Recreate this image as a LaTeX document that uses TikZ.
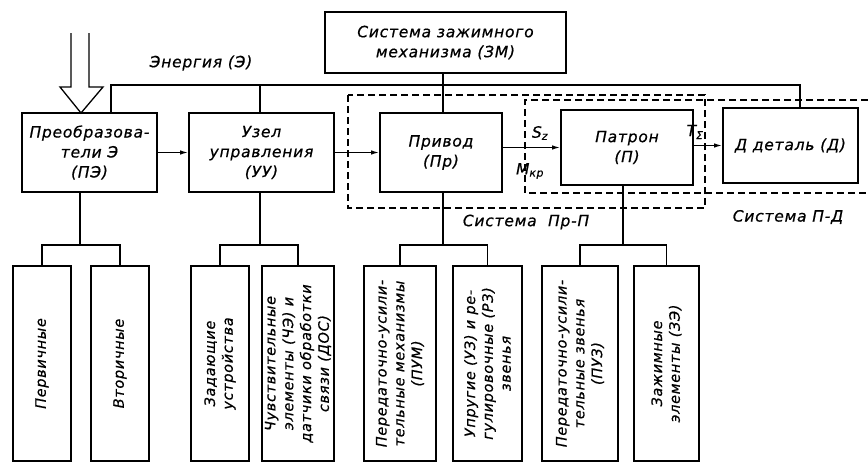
\documentclass[tikz,border=0pt]{standalone}
\usepackage{fontspec}
\setmainfont{DejaVu Sans}[LetterSpace=5,FakeBold=0.6]
\usetikzlibrary{arrows.meta}
\begin{document}
\begin{tikzpicture}[x=1pt,y=-1pt,
  box/.style={draw,line width=1.8pt,inner sep=0pt},
  vbox/.style={draw,line width=1.8pt,inner sep=0pt,minimum height=195pt},
  txt/.style={font=\itshape\fontsize{15.5}{20}\selectfont,align=center,inner sep=0pt},
  vtxt/.style={font=\itshape\fontsize{14.4}{17.8}\selectfont,align=center,inner sep=0pt,rotate=90},
  ln/.style={line width=1.3pt},
  dsh/.style={line width=1.2pt,dash pattern=on 7pt off 4pt},
  arr/.style={line width=1.3pt,-{Latex[length=8pt,width=4.5pt]}}]
\useasboundingbox (0,0) rectangle (868,463);

% main boxes
\node[box,minimum width=241pt,minimum height=61pt] (zm) at (445.5,42.5) {};
\node[txt] (tzm) at (zm.center) {Система зажимного\\механизма (ЗМ)};
\node[box,minimum width=135pt,minimum height=79pt] (pe) at (89.5,152.5) {};
\node[txt] (tpe) at (pe.center) {Преобразова-\\тели Э\\(ПЭ)};
\node[box,minimum width=145pt,minimum height=79pt] (uu) at (261.5,152.5) {};
\node[txt] (tuu) at (uu.center) {Узел\\управления\\(УУ)};
\node[box,minimum width=122pt,minimum height=79pt] (pr) at (441,152.5) {};
\node[txt] (tpr) at (pr.center) {Привод\\(Пр)};
\node[box,minimum width=132pt,minimum height=75pt] (pat) at (627,147.5) {};
\node[txt] (tpat) at (pat.center) {Патрон\\(П)};
\node[box,minimum width=135pt,minimum height=75pt] (det) at (790.5,145.5) {};
\node[txt] (tdet) at (det.center) {Д деталь (Д)};

% bottom boxes
\node[vbox,minimum width=58pt] (b1) at (42,363.5) {};
\node[vtxt] (t1) at (b1.center) {Первичные};
\node[vbox,minimum width=58pt] (b2) at (120,363.5) {};
\node[vtxt] (t2) at (b2.center) {Вторичные};
\node[vbox,minimum width=58pt] (b3) at (220,363.5) {};
\node[vtxt] (t3) at (b3.center) {Задающие\\устройства};
\node[vbox,minimum width=72pt] (b4) at (298,363.5) {};
\node[vtxt] (t4) at (b4.center) {Чувствительные\\элементы (ЧЭ) и\\датчики обработки\\связи (ДОС)};
\node[vbox,minimum width=72pt] (b5) at (400,363.5) {};
\node[vtxt] (t5) at (b5.center) {Передаточно-усили-\\тельные механизмы\\(ПУМ)};
\node[vbox,minimum width=69pt] (b6) at (487.5,363.5) {};
\node[vtxt] (t6) at (b6.center) {Упругие (УЗ) и ре-\\гулировочные (РЗ)\\звенья};
\node[vbox,minimum width=76pt] (b7) at (580,363.5) {};
\node[vtxt] (t7) at (b7.center) {Передаточно-усили-\\тельные звенья\\(ПУЗ)};
\node[vbox,minimum width=65pt] (b8) at (666.5,363.5) {};
\node[vtxt] (t8) at (b8.center) {Зажимные\\элементы (ЗЭ)};

% energy input arrow
\draw[ln] (71,33) -- (71,87) -- (60,87) -- (81,113) -- (103,87) -- (89,87) -- (89,33);
\node[txt] (en) at (201,63) {Энергия (Э)};

% energy distribution line
\coordinate (e1) at (111,85);
\coordinate (e2) at (800,85);
\coordinate (eu) at (260,85);
\coordinate (ez) at (443,85);
\draw[ln] (pe.north -| e1) -- (e1) -- (e2) -- (det.north -| e2);
\draw[ln] (eu) -- (uu.north -| eu);
\draw[ln] (zm.south -| ez) -- (pr.north -| ez);

% dashed system boundaries
\draw[dsh] (348,95) rectangle (705,208);
\draw[dsh] (868,100) -- (525,100) -- (525,193) -- (868,193);
\node[txt] (spp) at (526,222) {Система\ \ Пр-П};
\node[txt] (spd) at (788,217) {Система П-Д};

% flow arrows
\draw[arr] (pe) -- (uu);
\draw[arr] (uu) -- (pr);
\draw[arr] (pr.east |- pat.west) -- (pat.west);
\draw[arr] (pat.east |- det.west) -- (det.west);
\node[txt] (sz) at (540,133) {S\textsubscript{z}};
\node[txt] (mk) at (530,171) {M\textsubscript{кр}};
\node[txt] (tz) at (695,132) {T\textsubscript{Σ}};

% trees
\coordinate (j1) at (80,245);
\coordinate (j2) at (260,245);
\coordinate (j3) at (443,245);
\coordinate (j4) at (623,245);
\draw[ln] (pe.south -| j1) -- (j1);
\draw[ln] (b1.north) |- (j1) -| (b2.north);
\draw[ln] (uu.south -| j2) -- (j2);
\draw[ln] (b3.north) |- (j2) -| (b4.north);
\draw[ln] (pr.south -| j3) -- (j3);
\draw[ln] (b5.north) |- (j3) -| (b6.north);
\draw[ln] (pat.south -| j4) -- (j4);
\draw[ln] (b7.north) |- (j4) -| (b8.north);
\end{tikzpicture}
\end{document}
